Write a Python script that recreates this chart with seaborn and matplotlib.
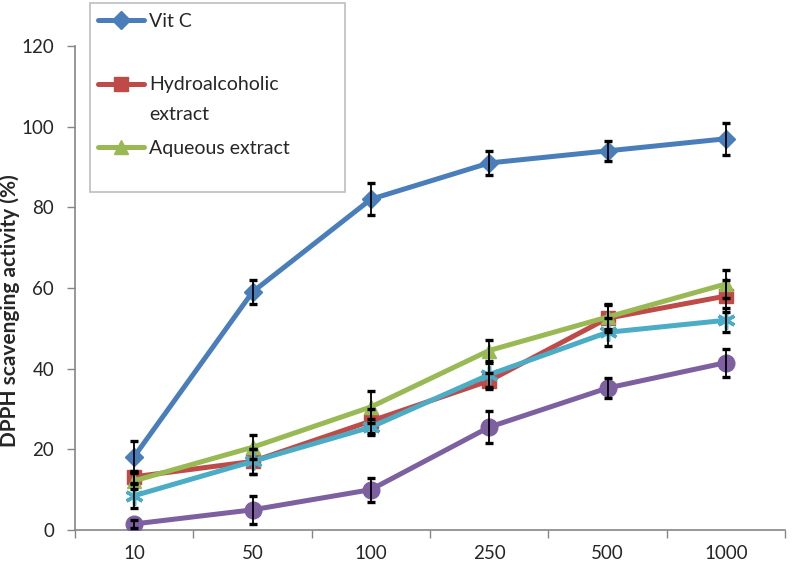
import numpy as np
import pandas as pd
import matplotlib
matplotlib.use('Agg')
import matplotlib.pyplot as plt
import seaborn as sns
from matplotlib.patches import Rectangle

# Concentrações (categorias do eixo X)
concentracoes = ['10', '50', '100', '250', '500', '1000']

# Valores médios (%)
vit_c = [18.2, 59.0, 82.0, 91.0, 94.0, 97.0]
hidroalcoolico = [13.2, 17.0, 27.0, 37.0, 52.5, 58.0]
aquoso = [12.2, 20.5, 30.5, 44.5, 52.8, 61.0]
serie_ciano = [8.5, 17.0, 25.5, 38.5, 49.0, 52.0]
serie_roxa = [1.5, 5.0, 10.0, 25.5, 35.2, 41.5]

# Desvios (barras de erro)
err_vit_c = [3.8, 3.0, 4.0, 3.0, 2.5, 4.0]
err_hidro = [1.5, 3.0, 3.0, 2.0, 3.5, 4.0]
err_aquoso = [2.0, 3.0, 4.0, 2.5, 3.0, 3.5]
err_ciano = [3.0, 3.0, 2.0, 3.0, 3.5, 3.0]
err_roxa = [1.0, 3.5, 3.0, 4.0, 2.5, 3.5]

series = [
    ('Vit C', vit_c, err_vit_c, '#4A7EBB', 'D', 9.5),
    ('Hydroalcoholic', hidroalcoolico, err_hidro, '#BE4B48', 's', 10),
    ('Aqueous extract', aquoso, err_aquoso, '#98B954', '^', 10.5),
    ('_ciano', serie_ciano, err_ciano, '#4BACC6', (6, 2, 0), 13),
    ('_roxa', serie_roxa, err_roxa, '#7D60A0', 'o', 12),
]

sns.set_style('white')
plt.rcParams['font.family'] = ['Lato', 'DejaVu Sans']

fig = plt.figure(figsize=(7.93, 5.67), dpi=100)
ax = fig.add_axes([75 / 793, 1 - 530 / 567, 710 / 793, (530 - 46) / 567])

pos = np.arange(len(concentracoes))
for nome, vals, errs, cor, marc, ms in series:
    sns.lineplot(x=pos, y=vals, ax=ax, color=cor, linewidth=3.6, marker=marc,
                 markersize=ms, markeredgecolor=cor, markeredgewidth=2.5 if marc == (6, 2, 0) else 1,
                 label=nome, zorder=3)
    ax.errorbar(pos, vals, yerr=errs, fmt='none', ecolor='black', elinewidth=1.3,
                capsize=3, capthick=2.4, zorder=4)

ax.set_xlim(-0.5, len(concentracoes) - 0.5)
ax.set_ylim(0, 120)
ax.set_yticks(range(0, 121, 20))
ax.set_xticks(pos)
ax.set_xticklabels(concentracoes)
ax.set_xticks(np.arange(-0.5, len(concentracoes), 1), minor=True)
ax.tick_params(axis='x', which='major', length=0, pad=11, labelsize=13.5)
ax.tick_params(axis='x', which='minor', length=6, width=1, color='#868686', direction='out')
ax.tick_params(axis='y', length=6, width=1, color='#868686', direction='out', labelsize=13.5, pad=9)
ax.tick_params(bottom=True, left=True, which='both')

for lado in ['top', 'right']:
    ax.spines[lado].set_visible(False)
for lado in ['left', 'bottom']:
    ax.spines[lado].set_color('#868686')
    ax.spines[lado].set_linewidth(1.2)

ax.set_ylabel('DPPH scavenging activity (%)', fontsize=15, fontweight='bold')
ax.yaxis.set_label_coords((20 - 75) / 710, (530 - 311) / 484)
ax.set_xlabel('')

# Legenda (caixa desenhada à parte, como no Excel)
ax.add_patch(Rectangle((90 / 793, 1 - 192 / 567), 255 / 793, 189 / 567,
                       transform=fig.transFigure, facecolor='white', clip_on=False,
                       edgecolor='#BEBEBE', linewidth=1.2, zorder=10))
leg = ax.legend(loc='upper left', bbox_to_anchor=(88 / 793, 1 - 3 / 567),
                bbox_transform=fig.transFigure, frameon=False, fontsize=14,
                handlelength=2.4, handletextpad=0.25, labelspacing=2.4, borderpad=0.0)
leg.set_zorder(11)

# segunda linha do rótulo "Hydroalcoholic extract"
fig.canvas.draw()
bb = leg.get_texts()[1].get_window_extent()
ax.text(bb.x0, bb.y0 - 30, 'extract', transform=None, fontsize=14,
        va='bottom', ha='left', zorder=12)

plt.savefig('out.png', dpi=100)
